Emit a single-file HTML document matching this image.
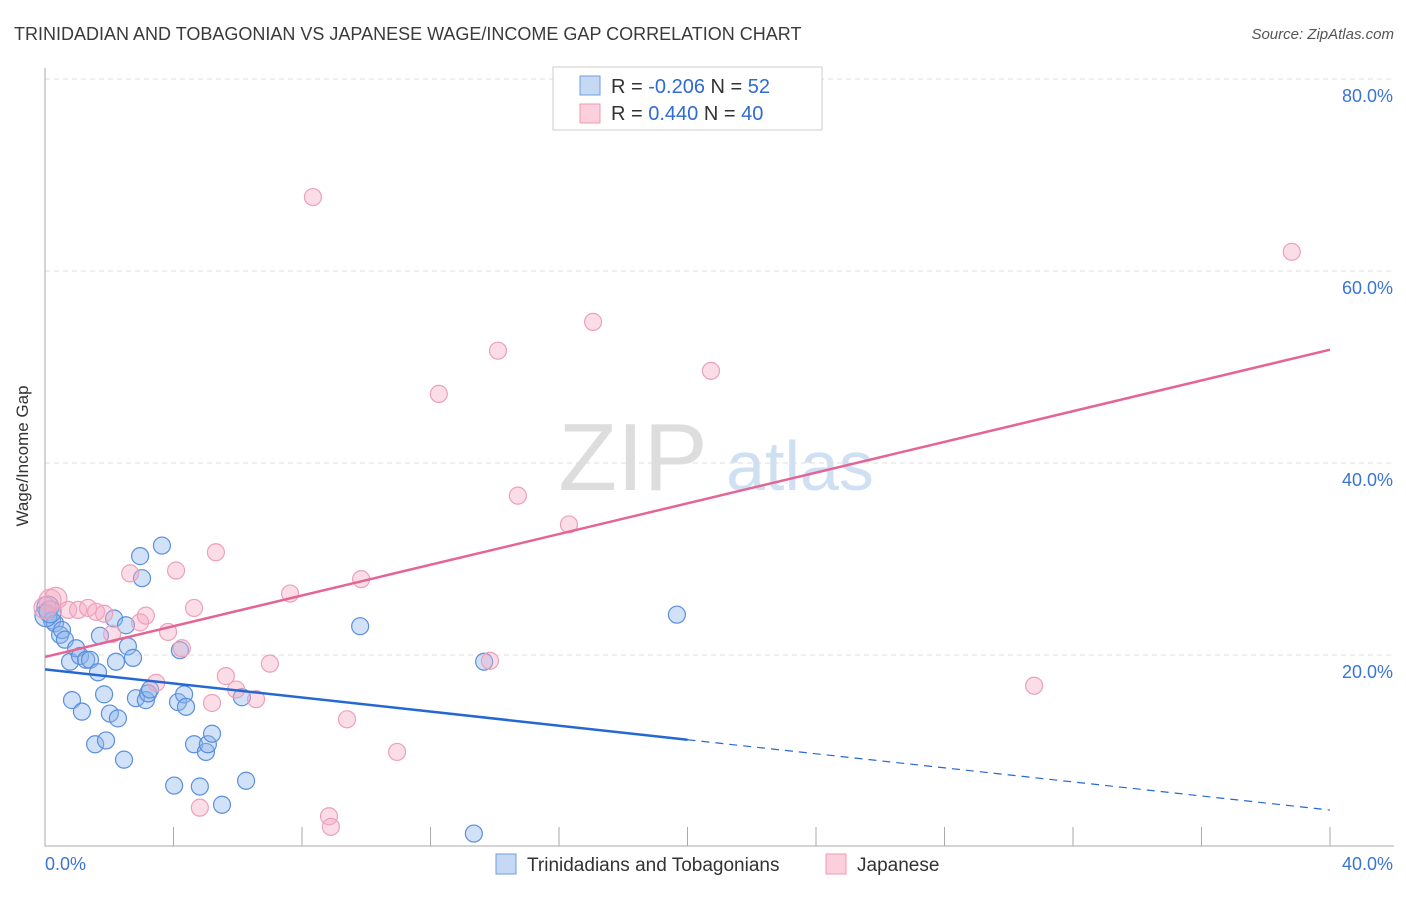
<!DOCTYPE html>
<html><head><meta charset="utf-8"><style>
body{margin:0;background:#fff;font-family:"Liberation Sans",sans-serif}
svg text{font-family:"Liberation Sans",sans-serif}
</style></head><body>
<svg id="c" width="1406" height="892" xmlns="http://www.w3.org/2000/svg">
<text x="14" y="40" font-size="18" fill="#3a3a3a">TRINIDADIAN AND TOBAGONIAN VS JAPANESE WAGE/INCOME GAP CORRELATION CHART</text>
<text x="1394" y="39" font-size="15" fill="#555" font-style="italic" text-anchor="end">Source: ZipAtlas.com</text>
<text x="28" y="456" font-size="17" fill="#333" text-anchor="middle" transform="rotate(-90 28 456)">Wage/Income Gap</text>
<g><text x="633" y="490" font-size="96" fill="#ddd" font-family="Liberation Serif" text-anchor="middle">ZIP</text><text x="800" y="490" font-size="70" fill="#cfe0f3" text-anchor="middle">atlas</text></g>
<g id="grid"></g><g id="axes"></g><g id="pts"></g><g id="lines"></g>
<g>
<rect x="553" y="67" width="269" height="63" fill="#fff" stroke="#ccc"/>
<rect x="580" y="76" width="20" height="19" fill="#c5d9f5" stroke="#6d9de0"/>
<rect x="580" y="104" width="20" height="19" fill="#fbd0dc" stroke="#ee9ab4"/>
<text x="611" y="93" font-size="20" fill="#333">R = <tspan fill="#2e6bd3">-0.206</tspan>   N =  <tspan fill="#2e6bd3">52</tspan></text>
<text x="611" y="120" font-size="20" fill="#333">R =  <tspan fill="#2e6bd3"> 0.440</tspan>   N = <tspan fill="#2e6bd3">40</tspan></text>
</g>
<g>
<rect x="496" y="854" width="20" height="20" fill="#c5d9f5" stroke="#6d9de0"/>
<text x="527" y="871" font-size="19" fill="#333">Trinidadians and Tobagonians</text>
<rect x="826" y="854" width="20" height="20" fill="#fbd0dc" stroke="#ee9ab4"/>
<text x="857" y="871" font-size="19" fill="#333">Japanese</text>
</g>
</svg>
<script>
const blueX=[.09,.22,.31,.47,.53,.62,.78,.84,.97,1.09,1.15,1.28,1.40,1.56,1.65,1.71,1.84,1.90,2.02,2.15,2.21,2.27,2.46,2.58,2.52,2.74,2.83,2.96,3.02,3.14,3.21,3.27,3.64,4.02,4.14,4.20,4.33,4.39,4.64,4.82,5.01,5.07,5.20,5.51,6.13,6.26,9.81,13.35,13.67,19.67,.03,.16];
const blueY=[25.0,23.6,23.3,22.1,22.6,21.6,19.3,15.3,20.7,19.9,14.1,19.5,19.5,10.7,18.2,22.0,15.9,11.1,13.9,23.8,19.3,13.4,9.1,20.9,23.1,19.7,15.5,30.3,28.0,15.3,16.0,16.4,31.4,6.4,15.1,20.5,15.9,14.6,10.7,6.3,9.9,10.7,11.8,4.4,15.6,6.9,23.0,1.4,19.3,24.2,24.1,24.5];
const pinkX=[.16,.34,.72,1.03,1.34,1.59,1.84,2.09,2.65,2.96,3.14,3.46,3.83,4.08,4.26,4.64,4.82,5.20,5.32,5.63,5.95,6.57,7.00,7.63,8.34,8.84,8.90,9.40,9.84,10.96,12.26,13.85,14.10,14.72,16.31,17.06,20.73,30.79,38.81,0];
const pinkY=[25.7,25.9,24.7,24.7,24.9,24.5,24.3,22.2,28.5,23.4,24.1,17.1,22.4,28.8,20.7,24.9,4.1,15.0,30.7,17.8,16.4,15.4,19.1,26.4,67.7,3.2,2.1,13.3,27.9,9.9,47.2,19.4,51.7,36.6,33.6,54.7,49.6,16.8,62.0,24.9];
const yTicks=[20,40,60,80];
const blueTrend=[18.5,3.85];const pinkTrend=[19.8,51.8];
const X=v=>45+v*1285/40, Y=v=>847-v*9.6;
const NS="http://www.w3.org/2000/svg";
function mk(p,t,a){const e=document.createElementNS(NS,t);for(const k in a)e.setAttribute(k,a[k]);document.getElementById(p).appendChild(e);return e;}
yTicks.forEach(t=>{
 const l=mk('grid','line',{x1:45,x2:1394,y1:Y(t),y2:Y(t),stroke:'#ddd','stroke-dasharray':'5,4'});
 
 
 const tx=mk('grid','text',{x:1393,y:Y(t)+23,'font-size':18,fill:'#3b74d6','text-anchor':'end'});tx.textContent=t.toFixed(1)+'%';
 
 
});
const ax=mk('axes','path',{d:'M45 68V846H1394',stroke:'#aaa',fill:'none'});


for(let i=1;i<=10;i++){const t=mk('axes','line',{x1:X(i*4),x2:X(i*4),y1:827,y2:846,stroke:'#aaa'});
 
 }
[['0.0%',45,'start'],['40.0%',1393,'end']].forEach(a=>{const t=mk('axes','text',{x:a[1],y:870,'font-size':18,fill:'#3b74d6','text-anchor':a[2]});t.textContent=a[0];
 
 });
blueX.forEach((v,i)=>{const c=mk('pts','circle',{cx:X(v),cy:Y(blueY[i]),r:v<0.2?11:8.5,fill:'rgba(140,180,235,0.4)',stroke:'#5b8fdc','stroke-width':1.2});
 
 });
pinkX.forEach((v,i)=>{const c=mk('pts','circle',{cx:X(v),cy:Y(pinkY[i]),r:v<0.4?11:8.5,fill:'rgba(245,170,195,0.4)',stroke:'#eea0b8','stroke-width':1.2});
 
 });
const bAt=x=>blueTrend[0]+(blueTrend[1]-blueTrend[0])*x/40;
const b1=mk('lines','line',{x1:X(0),y1:Y(bAt(0)),x2:X(20),y2:Y(bAt(20)),stroke:'#2668d2','stroke-width':2.5});


const b2=mk('lines','line',{x1:X(20),y1:Y(bAt(20)),x2:X(40),y2:Y(bAt(40)),stroke:'#2668d2','stroke-width':1.2,'stroke-dasharray':'8,6'});


const p1=mk('lines','line',{x1:X(0),y1:Y(pinkTrend[0]),x2:X(40),y2:Y(pinkTrend[1]),stroke:'#e46595','stroke-width':2.5});


</script>
</body></html>
